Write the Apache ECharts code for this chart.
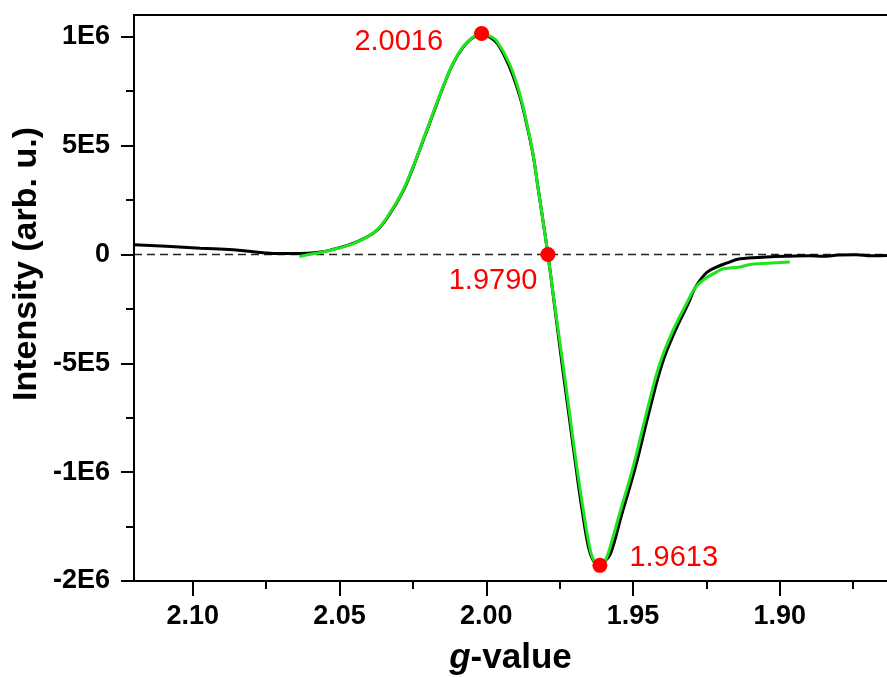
<!DOCTYPE html>
<html>
<head>
<meta charset="utf-8">
<script src="https://cdn.jsdelivr.net/npm/echarts@6/dist/echarts.min.js"></script>
<style>
  html, body { margin: 0; padding: 0; background: #fff; }
  #chart { width: 887px; height: 677px; }
</style>
</head>
<body>
<div id="chart"></div>
<script>
// measured spectrum (black)
const expG = [2.1200, 2.1090, 2.0974, 2.0862, 2.0760, 2.0725, 2.0633, 2.0565, 2.0534, 2.0443,
  2.0375, 2.0330, 2.0284, 2.0250, 2.0216, 2.0182, 2.0148, 2.0114, 2.0080, 2.0046,
  2.0012, 1.9985, 1.9960, 1.9921, 1.9886, 1.9864, 1.9841, 1.9824, 1.9807, 1.9790,
  1.9772, 1.9742, 1.9719, 1.9696, 1.9675, 1.9652, 1.9636, 1.9618, 1.9598, 1.9577,
  1.9538, 1.9492, 1.9447, 1.9401, 1.9356, 1.9312, 1.9288, 1.9250, 1.9216, 1.9182,
  1.9136, 1.9045, 1.8966, 1.8900, 1.8853, 1.8800, 1.8739, 1.8690, 1.8635];
const expI = [45e3, 38e3, 29e3, 22e3, 8e3, 4e3, 4e3, 11e3, 19e3, 57e3,
  108e3, 184e3, 290e3, 398e3, 520e3, 643e3, 766e3, 874e3, 950e3, 996e3,
  1010e3, 995e3, 965e3, 862e3, 728e3, 608e3, 460e3, 309e3, 156e3, 0,
  -186e3, -502e3, -732e3, -962e3, -1161e3, -1344e3, -1405e3, -1428e3, -1410e3, -1375e3,
  -1191e3, -977e3, -732e3, -502e3, -349e3, -226e3, -152e3, -84e3, -58e3, -40e3,
  -20e3, -12e3, -8e3, -6e3, -8e3, -3e3, -1e3, -6e3, -5e3];

// simulated fit (green)
const fitG = [2.0637, 2.0585, 2.0534, 2.0443, 2.0375, 2.0330, 2.0284, 2.0250, 2.0216, 2.0182,
  2.0148, 2.0114, 2.0080, 2.0046, 2.0016, 1.9990, 1.9966, 1.9921, 1.9886, 1.9864,
  1.9841, 1.9824, 1.9807, 1.9790, 1.9772, 1.9739, 1.9716, 1.9693, 1.9671, 1.9648,
  1.9632, 1.9613, 1.9597, 1.9585, 1.9546, 1.9500, 1.9455, 1.9409, 1.9364, 1.9318,
  1.9290, 1.9261, 1.9216, 1.9193, 1.9136, 1.9102, 1.9056, 1.8966];
const fitI = [-9e3, 4e3, 18e3, 56e3, 110e3, 187e3, 294e3, 401e3, 524e3, 646e3,
  768e3, 876e3, 952e3, 998e3, 1015e3, 1004e3, 983e3, 876e3, 738e3, 615e3,
  463e3, 309e3, 156e3, 0, -183e3, -502e3, -732e3, -962e3, -1161e3, -1344e3,
  -1410e3, -1428e3, -1410e3, -1375e3, -1191e3, -977e3, -732e3, -502e3, -349e3, -226e3,
  -156e3, -117e3, -81e3, -66e3, -58e3, -46e3, -42e3, -35e3];

// marked g-values
const markG = [2.0016, 1.9790, 1.9613];
const markI = [1015e3, 0, -1428e3];
const markText = ['2.0016', '1.9790', '1.9613'];

// axes
const xTicks = [2.10, 2.05, 2.00, 1.95, 1.90];
const xMinor = [2.075, 2.025, 1.975, 1.925, 1.875];
const yTicks = [-1.5e6, -1e6, -5e5, 0, 5e5, 1e6];
const yTickLabels = ['-2E6', '-1E6', '-5E5', '0', '5E5', '1E6'];
const yMinor = [-1.25e6, -7.5e5, -2.5e5, 2.5e5, 7.5e5];

const font = '"Liberation Sans", Arial, sans-serif';
const red = '#ff0000';
const zip = (a, b) => a.map((v, i) => [v, b[i]]);

const xBase = {
  type: 'value', inverse: true, min: 1.8635, max: 2.12,
  splitLine: { show: false }, axisPointer: { show: false }
};
const yBase = {
  type: 'value', min: -1.5e6, max: 1.1e6,
  splitLine: { show: false }
};

const chart = echarts.init(document.getElementById('chart'), null, { renderer: 'canvas' });
chart.setOption({
  animation: false,
  backgroundColor: '#fff',
  grid: { left: 134, right: 0, top: 15, bottom: 96, containLabel: false, outerBoundsMode: 'none' },
  xAxis: [
    {
      ...xBase, position: 'bottom',
      axisLine: { onZero: false, lineStyle: { color: '#000', width: 2 } },
      axisTick: { customValues: xTicks, length: 15, lineStyle: { color: '#000', width: 2 } },
      axisLabel: {
        customValues: xTicks, formatter: v => v.toFixed(2), margin: 22,
        color: '#000', fontSize: 27, fontWeight: 'bold', fontFamily: font
      },
      name: '{i|g}-value', nameLocation: 'middle', nameGap: 60,
      nameTextStyle: {
        color: '#000', fontSize: 35, fontWeight: 'bold', fontFamily: font,
        rich: { i: { fontStyle: 'italic', fontWeight: 'bold', fontSize: 35, fontFamily: font, color: '#000' } }
      }
    },
    {
      ...xBase, position: 'bottom',
      axisLine: { show: false, onZero: false },
      axisTick: { customValues: xMinor, length: 8, lineStyle: { color: '#000', width: 2 } },
      axisLabel: { show: false }
    },
    {
      ...xBase, position: 'top',
      axisLine: { onZero: false, lineStyle: { color: '#000', width: 2 } },
      axisTick: { show: false }, axisLabel: { show: false }
    }
  ],
  yAxis: [
    {
      ...yBase, position: 'left',
      axisLine: { show: true, onZero: false, lineStyle: { color: '#000', width: 2 } },
      axisTick: { show: true, customValues: yTicks, length: 13, lineStyle: { color: '#000', width: 2 } },
      axisLabel: {
        customValues: yTicks, margin: 24,
        formatter: v => yTickLabels[yTicks.indexOf(v)] ?? '',
        color: '#000', fontSize: 27, fontWeight: 'bold', fontFamily: font
      }
    },
    {
      ...yBase, position: 'left',
      axisLine: { show: false, onZero: false },
      axisTick: { show: true, customValues: yMinor, length: 8, lineStyle: { color: '#000', width: 2 } },
      axisLabel: { show: false }
    }
  ],
  graphic: [
    {
      type: 'text', x: 27, y: 264, rotation: Math.PI / 2,
      style: {
        text: 'Intensity (arb. u.)', fill: '#000',
        font: 'bold 34px ' + font,
        align: 'center', verticalAlign: 'middle',
        textAlign: 'center', textVerticalAlign: 'middle'
      }
    }
  ],
  series: [
    {
      type: 'line', xAxisIndex: 0, yAxisIndex: 0,
      data: [[2.12, 0], [1.8635, 0]],
      symbol: 'none', silent: true,
      lineStyle: { color: '#222', width: 1.5, type: [8, 5] },
      z: 1
    },
    {
      type: 'line', xAxisIndex: 0, yAxisIndex: 0,
      data: zip(expG, expI),
      symbol: 'none', smooth: 0.4,
      lineStyle: { color: '#000', width: 3 },
      z: 2
    },
    {
      type: 'line', xAxisIndex: 0, yAxisIndex: 0,
      data: zip(fitG, fitI),
      symbol: 'none', smooth: 0.4,
      lineStyle: { color: '#1ee61e', width: 3 },
      z: 3
    },
    {
      type: 'scatter', xAxisIndex: 0, yAxisIndex: 0,
      symbolSize: 15,
      itemStyle: { color: red, opacity: 1 },
      label: { show: true, color: red, fontSize: 29, fontFamily: font, formatter: p => markText[p.dataIndex] },
      data: [
        { value: [markG[0], markI[0]], label: { position: 'left', distance: 31, offset: [0, 8] } },
        { value: [markG[1], markI[1]], label: { position: 'left', distance: 3, offset: [0, 27] } },
        { value: [markG[2], markI[2]], label: { position: 'right', distance: 22, offset: [0, -7] } }
      ],
      z: 5
    }
  ]
});
</script>
</body>
</html>
